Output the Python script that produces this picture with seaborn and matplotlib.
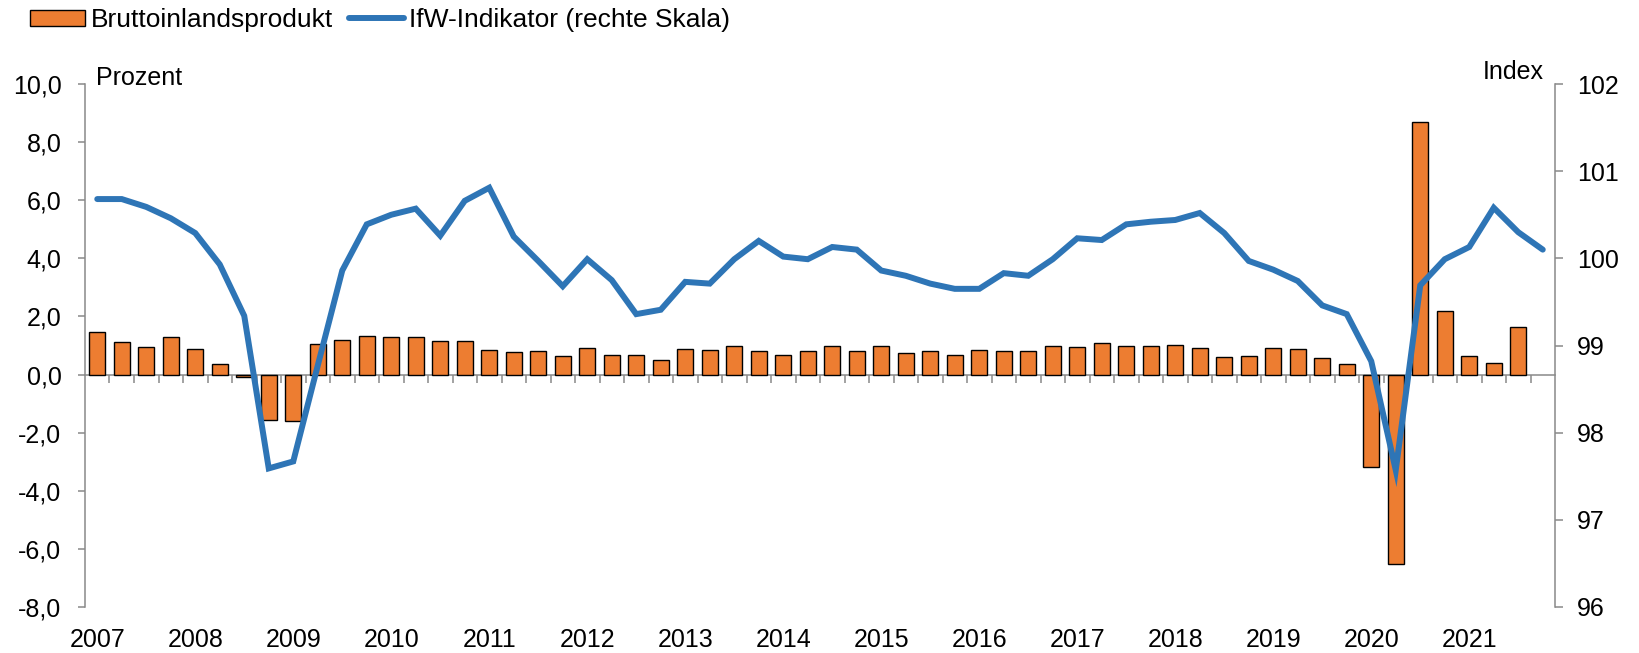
import numpy as np
import pandas as pd
import matplotlib
matplotlib.use("Agg")
import matplotlib.pyplot as plt
import seaborn as sns
from matplotlib.lines import Line2D
from matplotlib.patches import Patch
from matplotlib.ticker import FixedLocator

# ---------------- data ----------------
years = list(range(2007, 2022))
quarters = [f"{y}Q{q}" for y in years for q in range(1, 5)]

gdp = [1.45, 1.11, 0.95, 1.30, 0.89, 0.38, -0.08, -1.58,
       -1.59, 1.05, 1.20, 1.34, 1.28, 1.28, 1.17, 1.14,
       0.86, 0.79, 0.80, 0.65, 0.90, 0.69, 0.69, 0.51,
       0.89, 0.86, 0.99, 0.82, 0.69, 0.82, 0.98, 0.82,
       0.98, 0.75, 0.81, 0.66, 0.86, 0.80, 0.80, 1.00,
       0.94, 1.07, 0.99, 0.99, 1.03, 0.92, 0.61, 0.63,
       0.90, 0.87, 0.58, 0.38, -3.18, -6.52, 8.70, 2.19,
       0.64, 0.40, 1.62, np.nan]

ifw = [100.68, 100.68, 100.59, 100.46, 100.29, 99.93, 99.34, 97.59,
       97.67, 98.77, 99.86, 100.39, 100.50, 100.57, 100.26, 100.66,
       100.81, 100.25, 99.97, 99.68, 99.99, 99.75, 99.36, 99.41,
       99.73, 99.71, 99.99, 100.20, 100.02, 99.99, 100.13, 100.10,
       99.86, 99.80, 99.71, 99.65, 99.65, 99.83, 99.80, 99.99,
       100.23, 100.21, 100.39, 100.42, 100.44, 100.52, 100.29, 99.97,
       99.87, 99.74, 99.46, 99.36, 98.82, 97.57, 99.69, 99.99,
       100.13, 100.58, 100.30, 100.10]

left_ticks = [-8, -6, -4, -2, 0, 2, 4, 6, 8, 10]
right_ticks = [96, 97, 98, 99, 100, 101, 102]
year_labels = [str(y) for y in years]

legend_gdp = "Bruttoinlandsprodukt"
legend_ifw = "IfW-Indikator (rechte Skala)"

# ---------------- style ----------------
sns.set_theme(style="white")
plt.rcParams["font.family"] = ["Liberation Sans", "DejaVu Sans"]
plt.rcParams["text.color"] = "black"
plt.rcParams["xtick.labelcolor"] = "black"
plt.rcParams["ytick.labelcolor"] = "black"
FS = 18
FS_LEG = 19
ORANGE = "#ED7D31"
BLUE = "#2E75B6"
GRAY = "#898989"

df = pd.DataFrame({"quarter": quarters, "gdp": gdp, "ifw": ifw,
                   "pos": np.arange(len(quarters))})

fig = plt.figure(figsize=(16.4, 6.53), dpi=100)
ax = fig.add_axes([85/1640, 1-607/653, (1555-85)/1640, (607-84)/653])

sns.barplot(data=df.dropna(subset=["gdp"]), x="quarter", y="gdp", order=quarters,
            color=ORANGE, saturation=1, width=0.67, edgecolor="black",
            linewidth=1.0, ax=ax)

ax.set_xlim(-0.5, len(quarters) - 0.5)
ax.set_ylim(-8, 10)
ax.set_xlabel("")
ax.set_ylabel("")

# left axis
ax.yaxis.set_major_locator(FixedLocator(left_ticks))
ax.set_yticklabels([f"{v:.1f}".replace(".", ",") for v in left_ticks], fontsize=FS)
ax.tick_params(axis="y", which="major", left=True, length=5, width=1.1,
               color=GRAY, pad=12, labelcolor="black")

# year labels at bottom (Q1 positions)
q1_pos = [i for i, q in enumerate(quarters) if q.endswith("Q1")]
ax.xaxis.set_major_locator(FixedLocator(q1_pos))
ax.set_xticklabels(year_labels, fontsize=FS)
ax.tick_params(axis="x", which="major", bottom=True, length=0, pad=15,
               labelcolor="black")

for s in ["top", "right", "bottom"]:
    ax.spines[s].set_visible(False)
ax.spines["left"].set_color(GRAY)
ax.spines["left"].set_linewidth(1.1)

# zero axis with quarter boundary ticks
zero_frac = (0 - (-8)) / (10 - (-8))
sec = ax.secondary_xaxis(zero_frac)
sec.xaxis.set_major_locator(FixedLocator(np.arange(0.5, len(quarters) - 1, 1.0)))
sec.set_xticklabels([])
sec.tick_params(axis="x", direction="out", length=5.5, width=1.1, color=GRAY)
sec.spines["bottom"].set_color(GRAY)
sec.spines["bottom"].set_linewidth(1.1)

# right axis with line
ax2 = ax.twinx()
sns.lineplot(data=df, x="pos", y="ifw", color=BLUE, linewidth=4.3, ax=ax2,
             solid_capstyle="round", solid_joinstyle="miter")
ax2.set_ylim(96, 102)
ax2.set_xlim(-0.5, len(quarters) - 0.5)
ax2.set_xlabel("")
ax2.set_ylabel("")
ax2.yaxis.set_major_locator(FixedLocator(right_ticks))
ax2.set_yticklabels([str(v) for v in right_ticks], fontsize=FS)
ax2.tick_params(axis="y", right=True, length=6, width=1.1, color=GRAY, pad=10,
                labelcolor="black")
for s in ["top", "left", "bottom"]:
    ax2.spines[s].set_visible(False)
ax2.spines["right"].set_color(GRAY)
ax2.spines["right"].set_linewidth(1.1)
ax2.grid(False)
ax.grid(False)

# axis unit labels
fig.text(96/1640, 1-85/653, "Prozent", fontsize=FS, ha="left", va="baseline",
         color="black")
fig.text(1544/1640, 1-79/653, "Index", fontsize=FS, ha="right", va="baseline",
         color="black")

# legend
handles = [Patch(facecolor=ORANGE, edgecolor="black", linewidth=1.0),
           Line2D([0], [0], color=BLUE, linewidth=4.3, solid_capstyle="round")]
leg = fig.legend(handles, [legend_gdp, legend_ifw], loc="upper left",
                 bbox_to_anchor=(14/1640, 1.012), ncol=2, frameon=False,
                 fontsize=FS_LEG, handlelength=2.1, handleheight=0.55,
                 handletextpad=0.2, columnspacing=0.6, borderaxespad=0.2)
for t in leg.get_texts():
    t.set_color("black")

fig.savefig("out.png", dpi=100)
